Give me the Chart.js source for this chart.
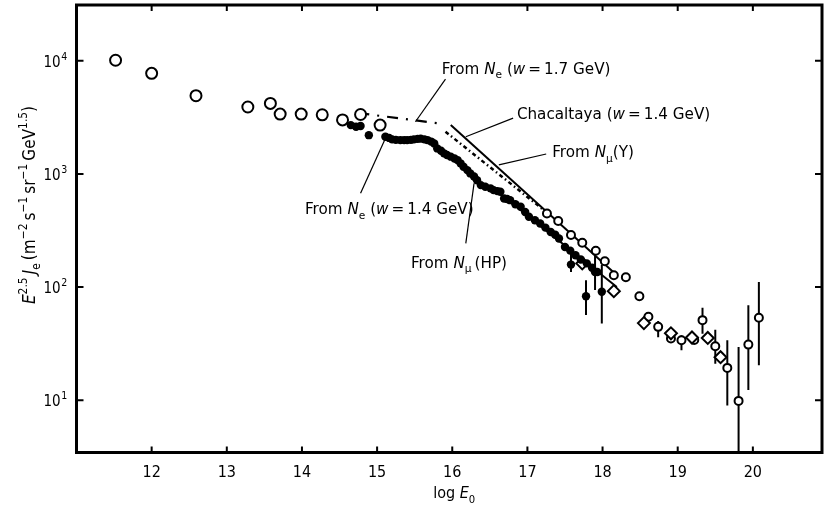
<!DOCTYPE html>
<html>
<head>
<meta charset="utf-8">
<script src="https://cdn.jsdelivr.net/npm/chart.js@4.4.1/dist/chart.umd.min.js"></script>
<style>
  html, body { margin: 0; padding: 0; background: #fff; }
</style>
</head>
<body>
<canvas id="chart" width="826" height="505"></canvas>
<script>
// axes
const xTicks = [12, 13, 14, 15, 16, 17, 18, 19, 20];
const yTicks = [10, 100, 1000, 10000];
const yTickExp = ['1', '2', '3', '4'];

// large open circles (low energy)
const bigX = [11.52, 12.0, 12.59, 13.28, 13.58, 13.71, 13.99, 14.27, 14.54, 14.78, 15.04];
const bigY = [10100, 7740, 4910, 3900, 4200, 3380, 3380, 3330, 3000, 3350, 2700];

// filled dots: from Ne (w=1.4 GeV) and from N_mu (HP)
const dotX = [14.65, 14.72, 14.78, 14.89, 15.11, 15.16, 15.2, 15.25, 15.31, 15.36, 15.4, 15.45, 15.49, 15.54,
  15.58, 15.63, 15.67, 15.72, 15.76, 15.8, 15.85, 15.89, 15.93, 15.98, 16.03, 16.07, 16.11, 16.15, 16.2, 16.24,
  16.29, 16.33, 16.38, 16.44, 16.51, 16.55, 16.6, 16.64, 16.69, 16.73, 16.77, 16.84, 16.91, 16.97, 17.02, 17.1,
  17.17, 17.24, 17.31, 17.37, 17.42, 17.5, 17.57, 17.64, 17.71, 17.79, 17.86, 17.93];
const dotY = [2700, 2610, 2650, 2200, 2130, 2080, 2020, 2000, 1990, 1990, 1990, 2000, 2020, 2040,
  2050, 2020, 1990, 1930, 1860, 1680, 1600, 1520, 1470, 1420, 1370, 1325, 1240, 1155, 1080, 1010,
  950, 880, 796, 770, 745, 719, 705, 695, 607, 600, 586, 540, 512, 460, 418, 390,
  365, 335, 307, 290, 269, 226, 210, 191, 175, 162, 148, 136];

// filled dots with error bars
const dotErrX = [17.58, 17.78, 17.9, 17.99];
const dotErrY = [158, 83, 136, 91];
const dotErrLo = [136, 56.5, 94, 47.6];
const dotErrHi = [212, 115, 212, 157];

// small open circles (high energy)
const smallX = [17.26, 17.41, 17.58, 17.73, 17.91, 18.03, 18.15, 18.31, 18.49, 18.61, 18.74, 18.91, 19.05,
  19.22, 19.33, 19.5, 19.66, 19.81, 19.94, 20.08];
const smallY = [447, 383, 288, 246, 209, 169, 127, 122, 83, 54.6, 44.5, 35.1, 33.9,
  34, 51, 30, 19.3, 9.86, 31, 53.5];

// error bars of small open circles
const openErrX = [18.74, 19.05, 19.33, 19.5, 19.66, 19.81, 19.94, 20.08];
const openErrLo = [36, 27.7, 38.7, 21, 9.0, 2.5, 12.3, 20.4];
const openErrHi = [50, 37.5, 65.5, 42, 33.9, 29.6, 69, 111];

// open diamonds
const diaX = [17.73, 18.15, 18.55, 18.91, 19.19, 19.4, 19.57];
const diaY = [162, 92, 48, 39, 35.8, 35.5, 24];

// model lines
const lineNe17X = [14.75, 15.85];
const lineNe17Y = [3450, 2780];
const lineChacX = [15.98, 18.19];
const lineChacY = [2700, 127];
const lineMuYX = [15.91, 17.2];
const lineMuYY = [2360, 490];
const lineMuHPX = [16.6, 18.19];
const lineMuHPY = [700, 100];

const SANS = '"DejaVu Sans", sans-serif';
const COND = '"DejaVu Sans Condensed", "DejaVu Sans", sans-serif';

const pts = (xs, ys) => xs.map((v, i) => ({ x: v, y: ys[i] }));

// rich text: segments {t, i: italic, s: 'sub'|'sup'}
function drawRich(ctx, segs, x, y, size, family, measureOnly) {
  let cx = x;
  for (const s of segs) {
    let fs = size, dy = 0;
    if (s.s === 'sub') { fs = size * 0.7; dy = size * 0.3; }
    if (s.s === 'sup') { fs = size * 0.7; dy = -size * 0.45; }
    ctx.font = (s.i ? 'italic ' : '') + fs + 'px ' + family;
    if (!measureOnly) ctx.fillText(s.t, cx, y + dy);
    cx += ctx.measureText(s.t).width;
  }
  return cx - x;
}

const NeSeg = [{ t: 'From ' }, { t: 'N', i: true }, { t: 'e', s: 'sub' }];
const notes = [
  { segs: NeSeg.concat([{ t: ' (' }, { t: 'w', i: true }, { t: '\u2009=\u20091.7 GeV)' }]),
    tx: 15.86, ty: 8610, from: [15.91, 6890], to: [15.51, 2890] },
  { segs: [{ t: 'Chacaltaya (' }, { t: 'w', i: true }, { t: '\u2009=\u20091.4 GeV)' }],
    tx: 16.86, ty: 3430, from: [16.81, 3110], to: [16.18, 2130] },
  { segs: [{ t: 'From ' }, { t: 'N', i: true }, { t: '\u03bc', s: 'sub' }, { t: '(Y)' }],
    tx: 17.33, ty: 1570, from: [17.25, 1500], to: [16.62, 1200] },
  { segs: NeSeg.concat([{ t: ' (' }, { t: 'w', i: true }, { t: '\u2009=\u20091.4 GeV)' }]),
    tx: 14.04, ty: 495, from: [14.78, 673], to: [15.14, 2280] },
  { segs: [{ t: 'From ' }, { t: 'N', i: true }, { t: '\u03bc', s: 'sub' }, { t: '\u2009(HP)' }],
    tx: 15.45, ty: 166, from: [16.18, 243], to: [16.29, 824] }
];

const errorBars = {
  id: 'errorBars',
  beforeDatasetsDraw(chart) {
    const { ctx, chartArea: a, scales: { x, y } } = chart;
    ctx.save();
    ctx.beginPath();
    ctx.rect(a.left, a.top, a.right - a.left, a.bottom - a.top);
    ctx.clip();
    ctx.strokeStyle = '#000';
    ctx.lineWidth = 2;
    ctx.beginPath();
    const add = (xs, lo, hi) => xs.forEach((v, i) => {
      const px = x.getPixelForValue(v);
      ctx.moveTo(px, y.getPixelForValue(lo[i]));
      ctx.lineTo(px, y.getPixelForValue(hi[i]));
    });
    add(dotErrX, dotErrLo, dotErrHi);
    add(openErrX, openErrLo, openErrHi);
    ctx.stroke();
    ctx.restore();
  }
};

const decorations = {
  id: 'decorations',
  afterDraw(chart) {
    const { ctx, chartArea: a, scales: { x, y } } = chart;
    ctx.save();
    ctx.strokeStyle = '#000';
    ctx.fillStyle = '#000';
    // frame
    ctx.lineWidth = 3;
    ctx.strokeRect(a.left, a.top, a.right - a.left, a.bottom - a.top);
    // inward ticks
    ctx.lineWidth = 2;
    ctx.beginPath();
    xTicks.forEach(v => {
      const px = x.getPixelForValue(v);
      ctx.moveTo(px, a.bottom); ctx.lineTo(px, a.bottom - 6);
      ctx.moveTo(px, a.top); ctx.lineTo(px, a.top + 6);
    });
    yTicks.forEach(v => {
      const py = y.getPixelForValue(v);
      ctx.moveTo(a.left, py); ctx.lineTo(a.left + 7, py);
      ctx.moveTo(a.right, py); ctx.lineTo(a.right - 7, py);
    });
    ctx.stroke();
    // x tick labels
    ctx.textBaseline = 'alphabetic';
    ctx.textAlign = 'center';
    ctx.font = '16px ' + COND;
    xTicks.forEach(v => ctx.fillText(String(v), x.getPixelForValue(v), a.bottom + 24.5));
    // y tick labels 10^n
    ctx.textAlign = 'left';
    yTicks.forEach((v, i) => {
      const py = y.getPixelForValue(v);
      ctx.font = '15px ' + COND;
      const w = ctx.measureText('10').width;
      ctx.fillText('10', a.left - 33, py + 6);
      ctx.font = '10.5px ' + COND;
      ctx.fillText(yTickExp[i], a.left - 33 + w + 0.5, py - 1);
    });
    // y title
    const ySegs = [{ t: 'E', i: true }, { t: '2.5', s: 'sup' }, { t: '\u2009J', i: true }, { t: 'e', s: 'sub' },
      { t: '\u2009(m' }, { t: '\u22122', s: 'sup' }, { t: '\u2009s' }, { t: '\u22121', s: 'sup' },
      { t: '\u2009sr' }, { t: '\u22121', s: 'sup' }, { t: '\u2009GeV' }, { t: '1.5', s: 'sup' }, { t: ')' }];
    ctx.save();
    ctx.translate(35, 205);
    ctx.rotate(-Math.PI / 2);
    const tw = drawRich(ctx, ySegs, 0, 0, 17, COND, true);
    drawRich(ctx, ySegs, -tw / 2, 0, 17, COND);
    ctx.restore();
    // x title
    const xSegs = [{ t: 'log ' }, { t: 'E', i: true }, { t: '0', s: 'sub' }];
    const xw = drawRich(ctx, xSegs, 0, 0, 16, COND, true);
    drawRich(ctx, xSegs, (a.left + a.right) / 2 + 5 - xw / 2, 498, 16, COND);
    // annotations
    ctx.lineWidth = 1.2;
    notes.forEach(n => {
      ctx.beginPath();
      ctx.moveTo(x.getPixelForValue(n.from[0]), y.getPixelForValue(n.from[1]));
      ctx.lineTo(x.getPixelForValue(n.to[0]), y.getPixelForValue(n.to[1]));
      ctx.stroke();
      drawRich(ctx, n.segs, x.getPixelForValue(n.tx), y.getPixelForValue(n.ty) + 5.5, 15.2, SANS);
    });
    ctx.restore();
  }
};

const lineDs = (xs, ys, dash, width) => ({
  type: 'line', data: pts(xs, ys), showLine: true, pointRadius: 0, borderColor: '#000',
  borderWidth: width, borderDash: dash, fill: false, order: 10
});
const pointDs = (xs, ys, style, r, bg, bw) => ({
  data: pts(xs, ys), showLine: false, pointStyle: style, pointRadius: r, pointHoverRadius: r,
  pointBackgroundColor: bg, pointBorderColor: '#000', pointBorderWidth: bw, order: 1
});

new Chart(document.getElementById('chart'), {
  type: 'scatter',
  data: {
    datasets: [
      lineDs(lineNe17X, lineNe17Y, [11, 8, 2, 8], 2.2),
      lineDs(lineChacX, lineChacY, [], 2),
      lineDs(lineMuYX, lineMuYY, [4, 3, 1.5, 3], 2.5),
      lineDs(lineMuHPX, lineMuHPY, [], 2),
      pointDs(dotX, dotY, 'circle', 4.2, '#000', 0),
      pointDs(dotErrX, dotErrY, 'circle', 4.2, '#000', 0),
      pointDs(diaX, diaY, 'rectRot', 6, '#fff', 2),
      pointDs(smallX, smallY, 'circle', 4, '#fff', 2),
      pointDs(bigX, bigY, 'circle', 5.5, '#fff', 2)
    ]
  },
  options: {
    responsive: false,
    animation: false,
    devicePixelRatio: 1,
    layout: { autoPadding: false, padding: { top: 5, right: 4, left: 0, bottom: 0 } },
    plugins: { legend: { display: false }, tooltip: { enabled: false } },
    scales: {
      x: {
        type: 'linear', min: 11, max: 20.92,
        afterBuildTicks: s => { s.ticks = xTicks.map(v => ({ value: v })); },
        afterFit: s => { s.height = 52.5; },
        ticks: { display: false },
        grid: { display: false, drawTicks: false },
        border: { display: false }
      },
      y: {
        type: 'logarithmic', min: 3.45, max: 31100,
        afterBuildTicks: s => { s.ticks = yTicks.map(v => ({ value: v })); },
        afterFit: s => { s.width = 76.5; },
        ticks: { display: false },
        grid: { display: false, drawTicks: false },
        border: { display: false }
      }
    }
  },
  plugins: [errorBars, decorations]
});
</script>
</body>
</html>
